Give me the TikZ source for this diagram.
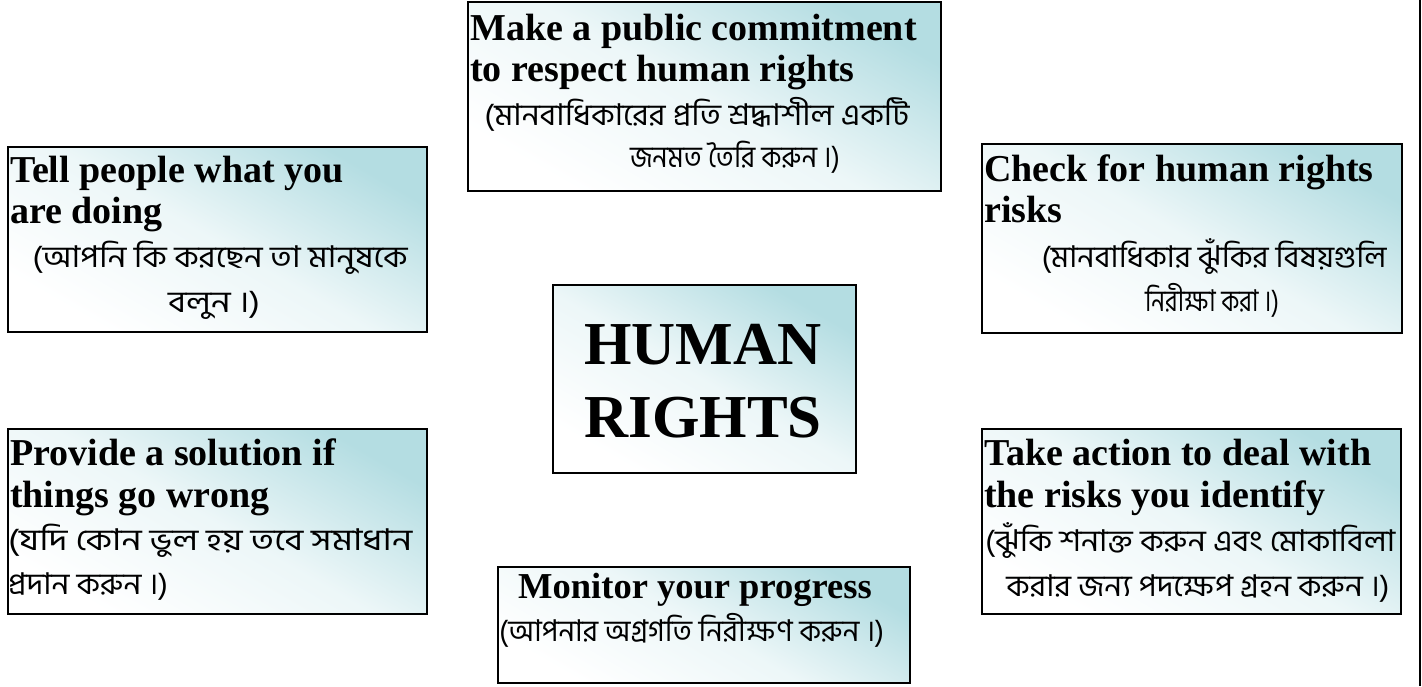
\documentclass[tikz,border=0pt]{standalone}
\usepackage{fontspec}
\setmainfont{Liberation Serif}
\newfontfamily\bnfont[Script=Bengali]{Hind Siliguri}
\usetikzlibrary{calc}
\definecolor{hrteal}{RGB}{180,221,226}
\definecolor{hrgray}{RGB}{128,128,128}
\pgfdeclarelayer{bg}
\pgfsetlayers{bg,main}
\newcommand{\bnw}[2]{\resizebox{#1}{\height}{\bnfont #2}}
\tikzset{
  hrbox/.style={draw=black, line width=2pt, top color=hrteal, bottom color=white, middle color=white!75!hrteal, shading angle=-30, inner sep=0pt, anchor=north west},
  en/.style={font=\fontsize{38}{38}\selectfont\bfseries, inner sep=0pt},
  enm/.style={font=\fontsize{36.5}{36.5}\selectfont\bfseries, inner sep=0pt},
  big/.style={font=\fontsize{61}{61}\selectfont\bfseries, inner sep=0pt},
  bn/.style={font=\fontsize{30}{30}\selectfont\bnfont, inner sep=0pt},
  link/.style={draw=hrgray, line width=5pt},
}
\begin{document}
\begin{tikzpicture}[x=1pt,y=-1pt]
\useasboundingbox[fill=white] (0,0) rectangle (1422,686);
% boxes
\node[hrbox, minimum width=473pt, minimum height=189pt] (t) at (467,1) {};
\node[hrbox, minimum width=419pt, minimum height=185pt] (lt) at (7,146) {};
\node[hrbox, minimum width=420pt, minimum height=189pt] (rt) at (981,143) {};
\node[hrbox, minimum width=303pt, minimum height=188pt] (c) at (552,284) {};
\node[hrbox, minimum width=419pt, minimum height=185pt] (lb) at (7,428) {};
\node[hrbox, minimum width=419pt, minimum height=185pt] (rb) at (981,428) {};
\node[hrbox, minimum width=412pt, minimum height=116pt] (b) at (497,566) {};
% connectors
\begin{pgfonlayer}{bg}
\draw[link] (c.north) -- (t.south);
\draw[link] (c.south) -- (b.north);
\draw[link] ($(c.north west)!0.255!(c.south west)$) -- ($(lt.north east)!0.79!(lt.south east)$);
\draw[link] ($(c.north west)!0.75!(c.south west)$) -- ($(lb.north east)!0.2!(lb.south east)$);
\draw[link] ($(c.north east)!0.255!(c.south east)$) -- ($(rt.north west)!0.79!(rt.south west)$);
\draw[link] ($(c.north east)!0.75!(c.south east)$) -- ($(rb.north west)!0.19!(rb.south west)$);
\end{pgfonlayer}
% right edge rule
\coordinate (edgeA) at (1420,0);
\coordinate (edgeB) at (1420,686);
\draw[line width=1.5pt] (edgeA) -- (edgeB);
% top box text
\node[en, anchor=base west] (t1) at (470,40) {Make a public commitment};
\node[en, anchor=base west] (t2) at (470,81) {to respect human rights};
\node[bn, anchor=base] (t3) at (697,125) {\bnw{425pt}{(মানবাধিকারের প্রতি শ্রদ্ধাশীল একটি}};
\node[bn, anchor=base] (t4) at (735,167) {\bnw{210pt}{জনমত তৈরি করুন ।)}};
% left top
\node[en, anchor=base west] (lt1) at (10,182) {Tell people what you};
\node[en, anchor=base west] (lt2) at (10,223) {are doing};
\node[bn, anchor=base] (lt3) at (220,267) {\bnw{375pt}{(আপনি কি করছেন তা মানুষকে}};
\node[bn, anchor=base] (lt4) at (214,312) {\bnw{92pt}{বলুন ।)}};
% right top
\node[en, anchor=base west] (rt1) at (984,181) {Check for human rights};
\node[en, anchor=base west] (rt2) at (984,222) {risks};
\node[bn, anchor=base] (rt3) at (1214,267) {\bnw{345pt}{(মানবাধিকার ঝুঁকির বিষয়গুলি}};
\node[bn, anchor=base] (rt4) at (1212,311) {\bnw{134pt}{নিরীক্ষা করা ।)}};
% centre
\node[big, anchor=base] (c1) at (703,364) {HUMAN};
\node[big, anchor=base] (c2) at (703,437) {RIGHTS};
% left bottom
\node[en, anchor=base west] (lb1) at (10,465) {Provide a solution if};
\node[en, anchor=base west] (lb2) at (10,507) {things go wrong};
\node[bn, anchor=base west] (lb3) at (8,550) {\bnw{404pt}{(যদি কোন ভুল হয় তবে সমাধান}};
\node[bn, anchor=base west] (lb4) at (8,594) {\bnw{160pt}{প্রদান করুন ।)}};
% right bottom
\node[en, anchor=base west] (rb1) at (984,465) {Take action to deal with};
\node[en, anchor=base west] (rb2) at (984,507) {the risks you identify};
\node[bn, anchor=base west] (rb3) at (985,551) {\bnw{410pt}{(ঝুঁকি শনাক্ত করুন এবং মোকাবিলা}};
\node[bn, anchor=base] (rb4) at (1198,596) {\bnw{383pt}{করার জন্য পদক্ষেপ গ্রহন করুন ।)}};
% bottom
\node[enm, anchor=base west] (b1) at (518,598) {Monitor your progress};
\node[bn, anchor=base west] (b2) at (499,641) {\bnw{385pt}{(আপনার অগ্রগতি নিরীক্ষণ করুন ।)}};
\end{tikzpicture}
\end{document}
